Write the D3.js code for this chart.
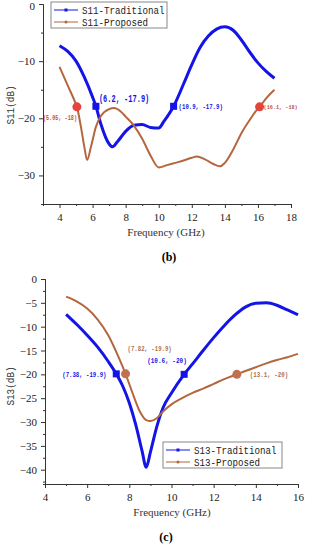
<!DOCTYPE html>
<html>
<head>
<meta charset="utf-8">
<script src="https://cdn.jsdelivr.net/npm/d3@7"></script>
<style>
  body { margin: 0; background: #fff; }
  svg { display: block; }
  text { font-family: "Liberation Serif", "DejaVu Serif", serif; }
</style>
</head>
<body>
<div id="chart"></div>
<script>
// ---- data ----
// (b) S11
var s11Freq = [4, 4.5, 5, 5.5, 6, 6.2, 6.5, 7, 7.2, 7.5, 8, 8.5, 9, 9.5, 10, 10.3, 10.9, 11.5, 12, 12.5, 13, 13.5, 14, 14.5, 15, 15.5, 16, 16.5, 17]
var s11Trad = [-7.3, -8.3, -10, -12.8, -16.3, -17.9, -21, -24.5, -25, -24.1, -22.3, -21.2, -21.1, -21.6, -21.7, -20.6, -17.9, -14, -10.6, -7.6, -5.6, -4.4, -4.0, -4.6, -6.3, -8.4, -10.3, -11.8, -13]
var s11PropFreq = [4, 4.5, 5, 5.05, 5.3, 5.5, 5.67, 5.9, 6.2, 6.5, 7, 7.3, 7.7, 8, 8.5, 9, 9.5, 10, 10.5, 11, 11.5, 12, 12.3, 12.8, 13.3, 13.7, 14, 14.5, 15, 15.5, 16, 16.1, 16.5, 17]
var s11Prop = [-11, -14.3, -17.6, -18, -21.6, -25, -27.3, -25, -21.5, -19.6, -18.4, -18.2, -18.8, -19.7, -21.3, -23.6, -26.5, -28.6, -28.2, -27.8, -27.4, -26.9, -26.7, -27.2, -28, -28.4, -27.8, -25.5, -22.6, -20.3, -18.3, -18, -16.5, -15]
var s11Marks = [
  { f: 6.2, v: -17.9, s: "trad", label: "(6.2, -17.9)" },
  { f: 10.9, v: -17.9, s: "trad", label: "(10.9, -17.9)" },
  { f: 5.05, v: -18, s: "prop", label: "(5.05, -18)" },
  { f: 16.1, v: -18, s: "prop", label: "(16.1, -18)" }
]
var s11XTicks = [4, 6, 8, 10, 12, 14, 16, 18]
var s11YTicks = [0, -10, -20, -30]

// (c) S13
var s13Freq = [5, 5.5, 6, 6.5, 7, 7.38, 7.7, 8, 8.3, 8.6, 8.8, 9, 9.3, 9.6, 10, 10.6, 11, 11.5, 12, 12.5, 13, 13.5, 14, 14.5, 15, 15.5, 16]
var s13Trad = [-7.4, -9.5, -11.8, -14.3, -17.3, -19.9, -22.6, -26, -30.5, -36, -39.5, -36.3, -31, -27, -23.9, -20, -17.8, -15, -12.3, -9.8, -7.6, -5.9, -5.1, -5.0, -5.5, -6.5, -7.5]
var s13PropFreq = [5, 5.5, 6, 6.5, 7, 7.5, 7.82, 8.2, 8.5, 8.8, 9, 9.3, 9.6, 10, 10.5, 11, 11.5, 12, 12.5, 13.1, 13.5, 14, 14.5, 15, 15.5, 16]
var s13Prop = [-3.7, -4.7, -6.2, -8.5, -11.8, -16.5, -19.9, -24.5, -27.8, -29.6, -29.8, -29.2, -27.8, -26.3, -25, -23.9, -23, -22, -21, -20, -19.3, -18.5, -17.7, -17, -16.4, -15.7]
var s13Marks = [
  { f: 7.38, v: -19.9, s: "trad", label: "(7.38, -19.9)" },
  { f: 10.6, v: -20, s: "trad", label: "(10.6, -20)" },
  { f: 7.82, v: -19.9, s: "prop", label: "(7.82, -19.9)" },
  { f: 13.1, v: -20, s: "prop", label: "(13.1, -20)" }
]
var s13XTicks = [4, 6, 8, 10, 12, 14, 16]
var s13YTicks = [0, -5, -10, -15, -20, -25, -30, -35, -40]

var blue = "#1414e6"
var brown = "#b4673f"

var svg = d3.select("#chart").append("svg")
    .attr("width", 309)
    .attr("height", 550)

function mono(sel, txt, size, charW) {
  sel.text(txt)
    .style("font-family", "'Liberation Mono', monospace")
    .attr("font-size", size)
    .attr("textLength", txt.length * charW)
    .attr("lengthAdjust", "spacingAndGlyphs")
}

function drawPanel(cfg) {
  var x = d3.scaleLinear().domain(cfg.xDom).range(cfg.xRange)
  var y = d3.scaleLinear().domain(cfg.yDom).range(cfg.yRange)
  var g = svg.append("g")

  // minor ticks
  var xAxis = d3.axisBottom(x).tickValues(cfg.xMinor).tickSize(2).tickFormat("")
  g.append("g").attr("transform", "translate(0," + cfg.yRange[0] + ")").call(xAxis)
  var yAxis = d3.axisLeft(y).tickValues(cfg.yMinor).tickSize(2).tickFormat("")
  g.append("g").attr("transform", "translate(" + cfg.xRange[0] + ",0)").call(yAxis)

  // major ticks
  var xa = g.append("g").attr("transform", "translate(0," + cfg.yRange[0] + ")")
    .call(d3.axisBottom(x).tickValues(cfg.xTicks).tickSize(4).tickPadding(5).tickSizeOuter(0))
  xa.selectAll("text").attr("font-size", 11).style("font-family", "'Liberation Serif', serif").attr("fill", "#222")
  var ya = g.append("g").attr("transform", "translate(" + cfg.xRange[0] + ",0)")
    .call(d3.axisLeft(y).tickValues(cfg.yTicks).tickSize(4).tickPadding(4).tickSizeOuter(0).tickFormat(function(d) { return d === 0 ? "0" : "\u2212" + Math.abs(d) }))
  ya.selectAll("text").attr("font-size", 11).style("font-family", "'Liberation Serif', serif").attr("fill", "#222")
  // keep the top "0" label inside the page
  ya.selectAll(".tick").filter(function(d) { return d === 0 }).select("text").attr("dy", cfg.zeroDy)
  g.selectAll(".domain").attr("stroke", "#333")
  g.selectAll(".tick line").attr("stroke", "#333")

  var line = d3.line().x(function(d) { return x(d[0]) }).y(function(d) { return y(d[1]) }).curve(d3.curveMonotoneX)

  g.append("path").datum(d3.zip(cfg.tradF, cfg.trad))
    .attr("fill", "none").attr("stroke", blue).attr("stroke-width", 3).attr("d", line)
  g.append("path").datum(d3.zip(cfg.propF, cfg.prop))
    .attr("fill", "none").attr("stroke", brown).attr("stroke-width", 2).attr("d", line)

  // markers
  cfg.marks.forEach(function(m, i) {
    var px = x(m.f), py = y(m.v)
    if (m.s === "trad") {
      g.append("rect").attr("x", px - 3.5).attr("y", py - 3.5).attr("width", 7).attr("height", 7).attr("fill", blue)
    } else {
      g.append("circle").attr("cx", px).attr("cy", py).attr("r", 4.5).attr("fill", cfg.dotColor)
    }
    var lp = cfg.labelPos[i]
    var t = g.append("text").attr("x", px + lp[0]).attr("y", py + lp[1])
      .attr("fill", m.s === "trad" ? blue : cfg.labelBrown)
      .attr("font-weight", "bold")
    mono(t, m.label, lp[2], lp[3])
  })

  // axis titles
  var xt = g.append("text").attr("x", cfg.xTitle[0]).attr("y", cfg.xTitle[1]).attr("text-anchor", "middle").attr("fill", "#333")
  xt.text("Frequency (GHz)").attr("font-size", 11)
  var ytl = g.append("text").attr("transform", "translate(" + cfg.yTitle[0] + "," + cfg.yTitle[1] + ") rotate(-90)")
    .attr("text-anchor", "middle").attr("fill", "#333")
  mono(ytl, cfg.yLabel, 11, 5.6)
  g.append("text").attr("x", cfg.panel[0]).attr("y", cfg.panel[1]).attr("text-anchor", "middle")
    .attr("font-size", 12).attr("font-weight", "bold").text(cfg.panelLabel)

  // legend
  var lg = g.append("g").attr("transform", "translate(" + cfg.legend[0] + "," + cfg.legend[1] + ")")
  lg.append("rect").attr("width", cfg.legend[2]).attr("height", 26).attr("fill", "#fff").attr("stroke", "#888").attr("stroke-width", 1)
  var items = [[cfg.legendNames[0], blue], [cfg.legendNames[1], brown]]
  items.forEach(function(it, i) {
    var yy = 8 + i * 12
    lg.append("line").attr("x1", 3).attr("x2", 27).attr("y1", yy).attr("y2", yy).attr("stroke", it[1]).attr("stroke-width", 1)
    if (i === 0) lg.append("rect").attr("x", 13.5).attr("y", yy - 1.5).attr("width", 3).attr("height", 3).attr("fill", it[1])
    else lg.append("circle").attr("cx", 15).attr("cy", yy).attr("r", 1.5).attr("fill", it[1])
    var tt = lg.append("text").attr("x", 31).attr("y", yy + 4).attr("fill", "#222")
    mono(tt, it[0], 11, 5.5)
  })
}

drawPanel({
  xDom: [3, 18], xRange: [43, 291], yDom: [-35, 0], yRange: [204, 4],
  xTicks: s11XTicks, xMinor: [3, 5, 7, 9, 11, 13, 15, 17], yTicks: s11YTicks, yMinor: [-5, -15, -25, -35],
  tradF: s11Freq, trad: s11Trad, propF: s11PropFreq, prop: s11Prop,
  marks: s11Marks, dotColor: "#e4443c", labelBrown: "#c2523a", zeroDy: "0.5em",
  labelPos: [[3, -4, 10, 4.2], [5, 2.5, 7, 3.4], [-34, 13, 6.5, 3.1], [4, 2.5, 6, 3.1]],
  xTitle: [166, 236], yTitle: [14, 105], yLabel: "S11(dB)", panel: [169, 261], panelLabel: "(b)",
  legend: [51, 2, 116], legendNames: ["S11-Traditional", "S11-Proposed"]
})

drawPanel({
  xDom: [4, 16], xRange: [45, 298], yDom: [-43, 0], yRange: [484, 279],
  xTicks: s13XTicks, xMinor: [5, 7, 9, 11, 13, 15], yTicks: s13YTicks, yMinor: [-2.5, -7.5, -12.5, -17.5, -22.5, -27.5, -32.5, -37.5, -42.5],
  tradF: s13Freq, trad: s13Trad, propF: s13PropFreq, prop: s13Prop,
  marks: s13Marks, dotColor: "#c07250", labelBrown: "#b0704a", zeroDy: "0.32em",
  labelPos: [[-54, 3, 7, 3.4], [-37, -11, 7, 3.6], [2, -23, 7, 3.4], [13, 3, 7, 3.5]],
  xTitle: [172, 516], yTitle: [14, 386], yLabel: "S13(dB)", panel: [166, 541], panelLabel: "(c)",
  legend: [163, 442, 119], legendNames: ["S13-Traditional", "S13-Proposed"]
})
</script>
</body>
</html>
